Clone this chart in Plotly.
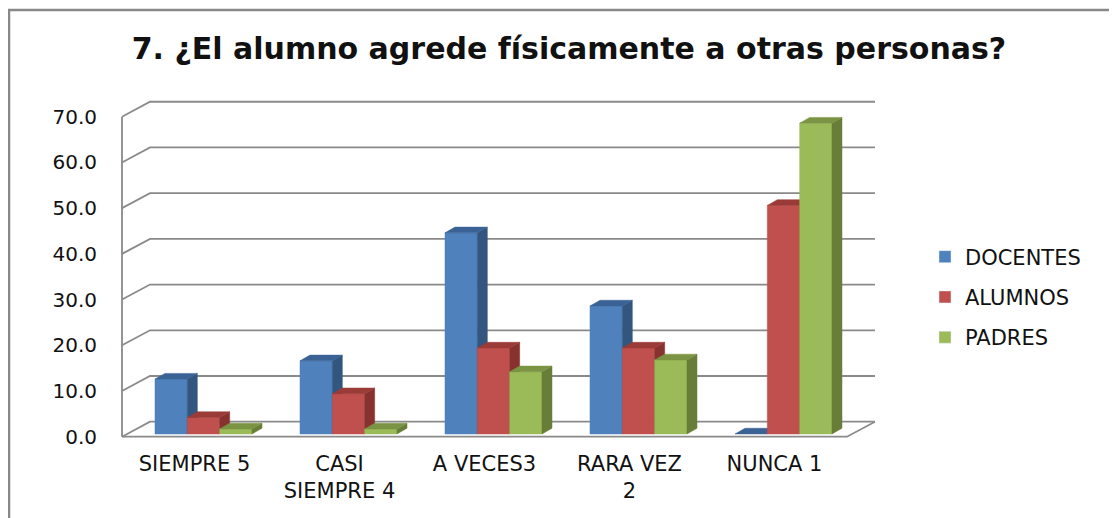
import plotly.graph_objects as go

# ---------------- data ----------------
categories = ["SIEMPRE 5", "CASI<br>SIEMPRE 4", "A VECES3", "RARA VEZ<br>2", "NUNCA 1"]
series_names = ["DOCENTES", "ALUMNOS", "PADRES"]
docentes = [12.0, 16.0, 44.0, 28.0, 0.0]
alumnos = [3.6, 8.8, 18.8, 18.8, 50.0]
padres = [1.1, 1.1, 13.6, 16.2, 68.0]
y_ticks = [0, 10, 20, 30, 40, 50, 60, 70]

series_values = [docentes, alumnos, padres]
front_colors = ["#4F81BD", "#C0504D", "#9BBB59"]
side_colors = ["#33567F", "#87322F", "#687E38"]
top_colors = ["#3B6294", "#9A3B38", "#7A9443"]

# ---------------- pseudo-3D geometry (data units) ----------------
WALL_DX, WALL_DY = 0.193, 3.28     # depth offset of the back wall
BAR_DX, BAR_DY = 0.069, 1.25       # depth of each bar
BAR_W = 0.223
GROUP_SHIFT = 0.062
BAR_BASE = 0.6
X_LEFT = -0.5
X_RIGHT_FRONT = len(categories) - 0.5

# page offset (browser body margin) compensation
OFF = 8
W, H = 1117 - OFF, 518 - OFF
PL, PR, PT, PB = 112 - OFF, 885 - OFF, 100 - OFF, 438 - OFF

fig = go.Figure()

grid_col = "#8A8A8A"
grid_w = 1.8

def line(xs, ys):
    fig.add_trace(go.Scatter(x=xs, y=ys, mode="lines",
                             line=dict(color=grid_col, width=grid_w),
                             hoverinfo="skip", showlegend=False))

# back-wall grid lines + slanted connectors to the front axis
for v in y_ticks:
    line([X_LEFT, X_LEFT + WALL_DX, X_RIGHT_FRONT + WALL_DX], [v, v + WALL_DY, v + WALL_DY])
# front vertical axis
line([X_LEFT, X_LEFT], [0, y_ticks[-1]])
# floor front edge and right side
line([X_LEFT, X_RIGHT_FRONT, X_RIGHT_FRONT + WALL_DX], [0, 0, WALL_DY])

def poly(xs, ys, color):
    fig.add_trace(go.Scatter(x=xs + [xs[0]], y=ys + [ys[0]], mode="lines",
                             fill="toself", fillcolor=color,
                             line=dict(color=color, width=0.5),
                             hoverinfo="skip", showlegend=False))

n = len(series_values)
for i in range(len(categories)):
    center = i + GROUP_SHIFT
    for j in range(n):
        v = series_values[j][i]
        xl = center - n * BAR_W / 2 + j * BAR_W
        xr = xl + BAR_W
        b0 = BAR_BASE
        top = b0 + v
        if v > 0:
            poly([xl, xr, xr, xl], [b0, b0, top, top], front_colors[j])
            poly([xr, xr + BAR_DX, xr + BAR_DX, xr], [b0, b0 + BAR_DY, top + BAR_DY, top], side_colors[j])
        poly([xl, xr, xr + BAR_DX, xl + BAR_DX], [top, top, top + BAR_DY, top + BAR_DY], top_colors[j])

# legend entries
for j, name in enumerate(series_names):
    fig.add_trace(go.Bar(x=[None], y=[None], name=name, marker_color=front_colors[j],
                         legendgroup=name))

font_family = "DejaVu Sans"
px_per_x = 145.0
fig.update_layout(
    width=W, height=H,
    margin=dict(l=PL, r=W - PR, t=PT, b=H - PB),
    paper_bgcolor="white", plot_bgcolor="white",
    title=dict(text="<b>7. ¿El alumno agrede físicamente a otras personas?</b>",
               x=(569 - OFF) / W, xanchor="center", xref="container",
               y=1 - (48 - OFF) / H, yanchor="middle", yref="container",
               font=dict(family=font_family, size=30, color="#111111")),
    xaxis=dict(range=[X_LEFT - 10 / px_per_x, X_LEFT + (885 - 122) / px_per_x],
               tickvals=list(range(len(categories))), ticktext=categories,
               showgrid=False, zeroline=False, showline=False, ticks="",
               tickfont=dict(family=font_family, size=21, color="#111111"),
               ticklabelstandoff=11, fixedrange=True),
    yaxis=dict(range=[-0.284, 73.66], tickvals=y_ticks,
               ticktext=[f"{t:.1f}" for t in y_ticks],
               showgrid=False, zeroline=False, showline=False, ticks="",
               tickfont=dict(family=font_family, size=20, color="#111111"),
               ticklabelstandoff=14, fixedrange=True),
    legend=dict(xref="container", yref="container", x=(925 - OFF) / W, y=1 - (297 - OFF) / H,
                xanchor="left", yanchor="middle", tracegroupgap=10,
                font=dict(family=font_family, size=21, color="#111111"),
                bgcolor="rgba(0,0,0,0)"),
    showlegend=True,
)

# outer chart border (top and left edges visible)
plot_w, plot_h = PR - PL, PB - PT
bx = (0 - PL) / plot_w
by = (PB - 2) / plot_h
fig.add_shape(type="line", xref="x domain", yref="y domain",
              x0=bx, x1=(W + 5 - PL) / plot_w, y0=by, y1=by,
              line=dict(color="#888888", width=2.5))
fig.add_shape(type="line", xref="x domain", yref="y domain",
              x0=bx + 1 / plot_w, x1=bx + 1 / plot_w, y0=by, y1=(PB - H - 5) / plot_h,
              line=dict(color="#888888", width=2.5))

fig.write_html("out.html")
